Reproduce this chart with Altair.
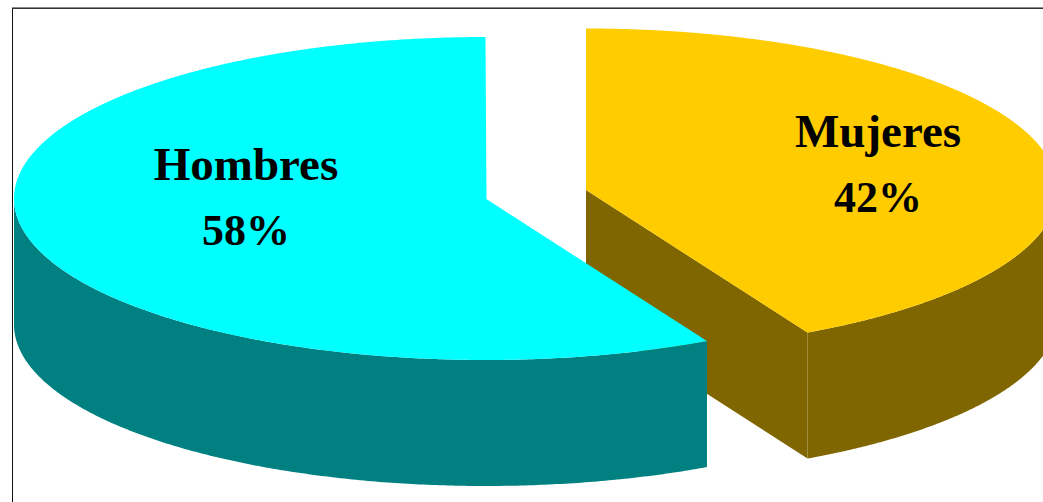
import numpy as np
import pandas as pd
import altair as alt

# Survey split shown on the pie
categories = ["Hombres", "Mujeres"]
shares = [58, 42]

# Layout of the tilted, exploded pie on a 1043x502 canvas
WIDTH, HEIGHT = 1043, 502
RX, RY, DEPTH = 471.5, 161.5, 126
FORESHORTEN = 0.975  # perspective pulls the front cut slightly towards the axis
CENTERS = {"Hombres": (485.5, 198.5), "Mujeres": (586, 190)}
LABEL_ANCHORS = {"Hombres": (246, 166), "Mujeres": (878, 133)}
LINE_GAP = 66
NAME_SIZE, SHARE_SIZE = 47, 44
COLORS = {
    "Hombres": ("#00FFFF", "#008080"),
    "Mujeres": ("#FFCC00", "#806600"),
}


def half_height(x, cx):
    u = np.clip((x - cx) / RX, -1, 1)
    return RY * np.sqrt(1 - u**2)


def sweep(a, b, cx, n=240):
    # x samples spaced evenly in angle, so the steep ellipse ends stay smooth
    ta = np.arcsin(np.clip((a - cx) / RX, -1, 1))
    tb = np.arcsin(np.clip((b - cx) / RX, -1, 1))
    return cx + RX * np.sin(np.linspace(ta, tb, n))


def band(x, top, bottom):
    return pd.DataFrame({"px": x, "top": top, "bottom": bottom})


def cut_line(x, cx, cy, ex):
    # Straight radial edge from the slice centre to its rim point at ex
    return cy + (x - cx) / (ex - cx) * half_height(ex, cx)


def pie_parts():
    # Hombres runs counter-clockwise from 12 o'clock, Mujeres clockwise
    h_cx, h_cy = CENTERS["Hombres"]
    m_cx, m_cy = CENTERS["Mujeres"]
    h_ex = h_cx - RX * FORESHORTEN * np.sin(np.radians(shares[0] / 100 * 360))
    m_ex = m_cx + RX * FORESHORTEN * np.sin(np.radians(shares[1] / 100 * 360))

    # Mujeres: radial cut face, outer wall, top face
    x_cut = np.array([m_cx, m_ex])
    y_cut = cut_line(x_cut, m_cx, m_cy, m_ex)
    x_wall = sweep(m_ex, m_cx + RX, m_cx)
    y_wall = m_cy + half_height(x_wall, m_cx)
    x_top = np.concatenate([sweep(m_cx, m_ex, m_cx), sweep(m_ex, m_cx + RX, m_cx)[1:]])
    upper = m_cy - half_height(x_top, m_cx)
    lower = np.where(
        x_top <= m_ex,
        cut_line(x_top, m_cx, m_cy, m_ex),
        m_cy + half_height(x_top, m_cx),
    )
    yield band(x_cut, y_cut, y_cut + DEPTH), COLORS["Mujeres"][1]
    yield band(x_wall, y_wall, y_wall + DEPTH), COLORS["Mujeres"][1]
    yield band(x_top, upper, lower), COLORS["Mujeres"][0]

    # Hombres: outer wall, then top face in front of the Mujeres cut
    x_wall = sweep(h_cx - RX, h_ex, h_cx)
    y_wall = h_cy + half_height(x_wall, h_cx)
    x_top = np.concatenate([sweep(h_cx - RX, h_cx, h_cx), sweep(h_cx, h_ex, h_cx)[1:]])
    upper = np.where(
        x_top <= h_cx,
        h_cy - half_height(x_top, h_cx),
        cut_line(x_top, h_cx, h_cy, h_ex),
    )
    lower = h_cy + half_height(x_top, h_cx)
    yield band(x_wall, y_wall, y_wall + DEPTH), COLORS["Hombres"][1]
    yield band(x_top, upper, lower), COLORS["Hombres"][0]


x_scale = alt.Scale(domain=[0, WIDTH], nice=False, zero=False)
y_scale = alt.Scale(domain=[HEIGHT, 0], nice=False, zero=False)

layers = []
for frame, color in pie_parts():
    layers.append(
        alt.Chart(frame)
        .mark_area(fill=color, opacity=1, orient="vertical")
        .encode(
            x=alt.X("px:Q", scale=x_scale, axis=None),
            y=alt.Y("top:Q", scale=y_scale, axis=None),
            y2=alt.Y2("bottom:Q"),
        )
    )

# Category name and percentage, one mark per line
label_rows = []
for name, share in zip(categories, shares):
    ax, ay = LABEL_ANCHORS[name]
    label_rows.append({"px": ax, "py": ay, "text": name, "fs": NAME_SIZE})
    label_rows.append({"px": ax, "py": ay + LINE_GAP, "text": f"{share}%", "fs": SHARE_SIZE})

labels = (
    alt.Chart(pd.DataFrame(label_rows))
    .mark_text(
        font="Liberation Serif",
        fontWeight="bold",
        color="#000000",
        align="center",
        baseline="middle",
    )
    .encode(
        x=alt.X("px:Q", scale=x_scale, axis=None),
        y=alt.Y("py:Q", scale=y_scale, axis=None),
        text="text:N",
        size=alt.Size("fs:Q", scale=None),
    )
)

# Thin frame along the top and left edges
frame_left = alt.Chart().mark_rule(color="#111111", strokeWidth=1).encode(
    x=alt.value(12.5), y=alt.value(8), y2=alt.value(HEIGHT)
)
frame_top_soft = alt.Chart().mark_rule(color="#8C8C8C", strokeWidth=1).encode(
    x=alt.value(12), x2=alt.value(WIDTH), y=alt.value(7.5)
)
frame_top = alt.Chart().mark_rule(color="#333333", strokeWidth=1).encode(
    x=alt.value(12), x2=alt.value(WIDTH), y=alt.value(8.5)
)

chart = (
    alt.layer(*layers, labels, frame_left, frame_top_soft, frame_top)
    .properties(width=WIDTH, height=HEIGHT, padding=0, background="#FFFFFF")
    .configure_view(stroke=None)
)
chart.autosize = alt.AutoSizeParams(type="none", contains="padding")

chart.save("out.html", embed_options={"renderer": "svg", "actions": False})
